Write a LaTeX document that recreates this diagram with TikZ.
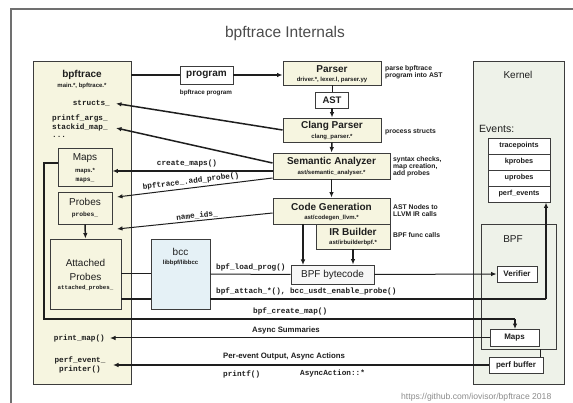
\documentclass[tikz,border=0pt]{standalone}
\usepackage{fontspec}
\setmainfont{Liberation Sans}
\setmonofont{Liberation Mono}
\usetikzlibrary{arrows.meta}
\definecolor{yel}{HTML}{F6F5E0}
\definecolor{bccblue}{HTML}{E5F1F6}
\definecolor{kgreen}{HTML}{EEF2E9}
\definecolor{bord}{HTML}{3C3C3C}
\definecolor{framec}{HTML}{707070}
\definecolor{txtc}{HTML}{1E1E1E}
\definecolor{bytefill}{HTML}{F7F7F7}
\begin{document}
\begin{tikzpicture}[x=1pt,y=-1pt,
  every node/.style={inner sep=0pt, text=txtc},
  box/.style={draw=bord, line width=0.9pt, inner sep=0pt},
  titlef/.style={font=\fontsize{15.5}{18}\selectfont, text=black!70},
  ttl/.style={font=\fontsize{10}{12}\selectfont\bfseries},
  ttlm/.style={font=\fontsize{10}{12}\selectfont},
  subt/.style={font=\fontsize{6}{7}\selectfont\bfseries},
  note/.style={font=\fontsize{6.8}{10}\selectfont\bfseries, align=left, anchor=west},
  lbl/.style={font=\fontsize{7.7}{9}\selectfont\ttfamily\bfseries},
  monosm/.style={font=\fontsize{6.3}{8}\selectfont\ttfamily\bfseries},
  suml/.style={font=\fontsize{7.8}{9}\selectfont\bfseries, anchor=west},
  evt/.style={box, fill=white, minimum width=62pt, minimum height=16pt, font=\fontsize{7.3}{9}\selectfont\bfseries},
  kbox/.style={box, fill=white, font=\fontsize{8}{9}\selectfont\bfseries},
  arr/.style={-{Latex[length=5.5pt,width=4.5pt]}},
  thin/.style={draw=txtc, line width=1pt},
  med/.style={draw=txtc, line width=1.5pt},
  thk/.style={draw=txtc, line width=2.2pt}
]
\useasboundingbox (0,0) rectangle (573,403);
\fill[white] (0,0) rectangle (573,403);
\draw[framec, line width=1.6pt] (11,403) -- (11,9) -- (573,9);

\node[titlef] (title) at (285,33) {bpftrace Internals};

% ---------- left: bpftrace ----------
\node[box, fill=yel, minimum width=98pt, minimum height=323pt] (bpft) at (82,222.5) {};
\node[ttl] (bpftitle) at (82,75) {bpftrace};
\node[subt] (bpfsub) at (82,86) {main.*, bpftrace.*};
\node[lbl, anchor=east] (structs) at (110,103) {structs\_};
\node[lbl, anchor=west] (printfa) at (52,118) {printf\_args\_};
\node[lbl, anchor=west] (stackid) at (52,128) {stackid\_map\_};
\node[lbl, anchor=west] (dots) at (52,137) {...};

\node[box, fill=yel, minimum width=54pt, minimum height=38pt] (mapsL) at (85,167) {};
\node[ttlm] (mapsLt) at (85,158) {Maps};
\node[subt] (mapsLs) at (85,171) {maps.*};
\node[monosm] (mapsLm) at (85,180) {maps\_};

\node[box, fill=yel, minimum width=54pt, minimum height=32pt] (probesL) at (85,208) {};
\node[ttlm] (probesLt) at (85,202) {Probes};
\node[monosm] (probesLm) at (85,215) {probes\_};

\node[box, fill=yel, minimum width=71pt, minimum height=70pt] (att) at (85.5,274) {};
\node[ttlm] (attt1) at (85.5,263) {Attached};
\node[ttlm] (attt2) at (85.5,277) {Probes};
\node[monosm, font=\fontsize{5.8}{7}\selectfont\ttfamily\bfseries] (attm) at (85.5,288) {attached\_probes\_};

\node[lbl, anchor=east] (printmap) at (105,339) {print\_map()};
\node[lbl] (perfev1) at (80,360) {perf\_event\_};
\node[lbl] (perfev2) at (80,370) {printer()};

% ---------- bcc ----------
\node[box, fill=bccblue, minimum width=59pt, minimum height=70pt] (bcc) at (180.5,274) {};
\node[ttlm] (bcct) at (180.5,252) {bcc};
\node[subt] (bccs) at (180.5,263) {libbpf/libbcc};

% ---------- middle ----------
\node[box, fill=white, minimum width=53pt, minimum height=18pt, ttl] (program) at (206.5,75) {program};
\node[subt, font=\fontsize{6.3}{7}\selectfont\bfseries] (progs) at (206,93) {bpftrace program};

\node[box, fill=yel, minimum width=98pt, minimum height=24pt] (parser) at (332,73) {};
\node[ttl] (parsert) at (332,69.5) {Parser};
\node[subt] (parsers) at (332,80) {driver.*, lexer.l, parser.yy};
\node[note] (parsen) at (385,72) {parse bpftrace\\[-3pt]program into AST};

\node[box, fill=white, minimum width=33pt, minimum height=16pt, ttl, font=\fontsize{9.5}{11}\selectfont\bfseries] (ast) at (332,100) {AST};

\node[box, fill=yel, minimum width=98pt, minimum height=24pt] (clang) at (332,130) {};
\node[ttl] (clangt) at (332,126) {Clang Parser};
\node[subt] (clangs) at (332,137) {clang\_parser.*};
\node[note] (clangn) at (385,132) {process structs};

\node[box, fill=yel, minimum width=117pt, minimum height=26pt] (sem) at (331.5,166) {};
\node[ttl] (semt) at (331.5,162) {Semantic Analyzer};
\node[subt] (sems) at (331.5,173) {ast/semantic\_analyser.*};
\node[note] (semn) at (393,167) {syntax checks,\\[-3pt]map creation,\\[-3pt]add probes};

\node[box, fill=yel, minimum width=117pt, minimum height=26pt] (cg) at (331.5,211) {};
\node[ttl] (cgt) at (331.5,207) {Code Generation};
\node[subt] (cgs) at (331.5,218) {ast/codegen\_llvm.*};
\node[note] (cgn) at (393,211) {AST Nodes to\\[-3pt]LLVM IR calls};

\node[box, fill=yel, minimum width=74pt, minimum height=25pt] (ir) at (353,236.5) {};
\node[ttl] (irt) at (353,232) {IR Builder};
\node[subt] (irs) at (353,243) {ast/irbuilderbpf.*};
\node[note] (irn) at (393,235) {BPF func calls};

\node[box, fill=bytefill, minimum width=83pt, minimum height=19pt, ttlm] (byte) at (332.5,274.5) {BPF bytecode};

% ---------- kernel ----------
\node[box, fill=kgreen, minimum width=91pt, minimum height=323pt] (kern) at (518.5,222.5) {};
\node[ttlm] (kernt) at (518,75) {Kernel};
\node[ttlm, font=\fontsize{10.5}{12}\selectfont, anchor=west] (events) at (479,129) {Events:};
\node[evt] (tp) at (519,146) {tracepoints};
\node[evt] (kp) at (519,162) {kprobes};
\node[evt] (up) at (519,178) {uprobes};
\node[evt] (pe) at (519,194) {perf\_events};

\node[box, fill=kgreen, minimum width=75pt, minimum height=125pt] (bpfk) at (518.5,286.5) {};
\node[ttlm] (bpfkt) at (513,239) {BPF};
\node[kbox, minimum width=40pt, minimum height=16pt] (verif) at (517,274) {Verifier};
\node[kbox, minimum width=49pt, minimum height=17pt] (kmaps) at (514.5,338) {Maps};
\node[kbox, minimum width=54pt, minimum height=16pt] (pbuf) at (516,365) {perf buffer};

\node[font=\fontsize{8.6}{10}\selectfont, text=black!45, anchor=west] (url) at (401,397) {https://github.com/iovisor/bpftrace 2018};

% ---------- connector end points ----------
\coordinate (structsE) at (116,103.5);
\coordinate (stackE) at (116,128);
\coordinate (addE) at (117,197);
\coordinate (nameE) at (117,229);
\coordinate (mapsTurn1) at (44,163);
\coordinate (mapsTurn2) at (44,319);
\coordinate (mapsTurn3) at (515,319);
\coordinate (attTurn) at (546,299);
\coordinate (printmapE) at (110,338);
\coordinate (perfevE) at (113,365);

% ---------- connectors ----------
\draw[med] (bpft.east |- program.west) -- (program.west);
\draw[med, arr] (program.east) -- (program.east -| parser.west);
\draw[thin] (parser.south) -- (ast.north);
\draw[med, arr] (ast.south) -- (clang.north);
\draw[med, arr] (clang.south) -- (sem.north);
\draw[med, arr] (sem.south) -- (cg.north);

\draw[med, arr] (clang.west) -- (structsE);
\draw[med, arr] ([yshift=3pt]sem.west) -- (stackE);
\draw[thk, arr] ([yshift=-5pt]sem.west) -- ([yshift=-5pt]sem.west -| mapsL.east);
\draw[thin, arr] ([yshift=-12pt]sem.west) -- (addE);
\draw[thin, arr] ([yshift=-2pt]cg.west) -- (nameE);

\node[lbl] (cmlbl) at (187,163.5) {create\_maps()};
\node[lbl, rotate=7] (addlbl) at (191,181.5) {bpftrace\_.add\_probe()};
\node[lbl, rotate=6] (namelbl) at (197,215.5) {name\_ids\_};

\draw[med, arr] (probesL.south) -- (att.north);

\draw[thk] ([yshift=4pt]mapsL.west) -- (mapsTurn1) -- (mapsTurn2) -- (mapsTurn3);
\draw[thk, arr] (mapsTurn3) -- (mapsTurn3 |- kmaps.north);
\node[lbl, anchor=west] (cmaplbl) at (253,311.5) {bpf\_create\_map()};

\draw[thin] (att.east) -- (bcc.west);
\draw[thk] ([yshift=-25pt]att.east) -- ([yshift=-25pt]bcc.west);
\draw[thin] (bcc.east) -- (byte.west);
\draw[thin, arr] (byte.east) -- (verif.west);
\node[lbl, anchor=west] (loadlbl) at (216,267.5) {bpf\_load\_prog()};
\draw[thk] ([yshift=-25pt]bcc.east) -- (attTurn);
\draw[med, arr] (attTurn) -- (attTurn |- pe.south);
\node[lbl, anchor=west] (attlbl) at (216,291.5) {bpf\_attach\_*(), bcc\_usdt\_enable\_probe()};

\draw[med, arr] (303,224) -- (303,265);
\draw[med, arr] (ir.south) -- (ir.south |- byte.north);

\draw[thin, arr] (kmaps.west) -- (printmapE);
\node[suml] (asynclbl) at (252,330.5) {Async Summaries};
\draw[med, arr] (pbuf.west) -- (perfevE);
\node[suml] (perlbl) at (223,356.5) {Per-event Output, Async Actions};
\node[lbl, anchor=west] (printflbl) at (223,374) {printf()};
\node[lbl, anchor=west] (asyncact) at (300,374) {AsyncAction::*};

\draw[thin] ([xshift=24pt]pbuf.north) -- ([xshift=24pt]pbuf.north |- bpfk.south);
\end{tikzpicture}
\end{document}
